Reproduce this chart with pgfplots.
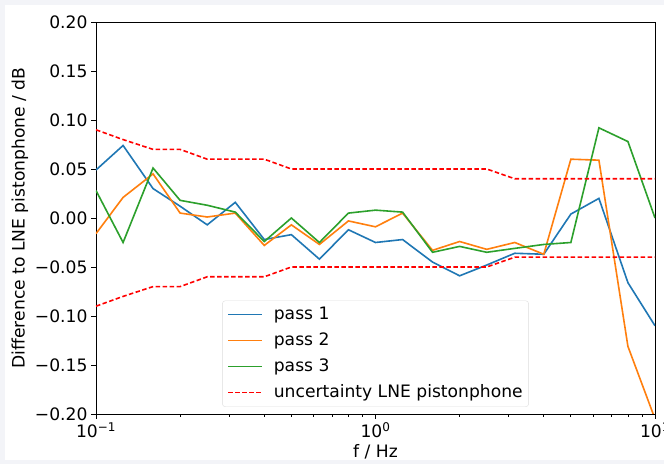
\documentclass[border=0pt]{standalone}
\usepackage{fontspec}
\setmainfont{DejaVu Sans}
\usepackage{pgfplots}
\pgfplotsset{compat=1.18}
\definecolor{tabblue}{HTML}{1F77B4}
\definecolor{taborange}{HTML}{FF7F0E}
\definecolor{tabgreen}{HTML}{2CA02C}
\definecolor{bggrey}{HTML}{F3F4F8}
\definecolor{legedge}{HTML}{DDDDDD}
\begin{document}
\begin{tikzpicture}[x=1bp,y=1bp]
\clip (0,0) rectangle (664,464);
\fill[bggrey] (0,0) rectangle (664,464);
\fill[white] (5,4) rectangle (664,459);
\begin{axis}[
  at={(96bp,50bp)}, anchor=south west,
  scale only axis, width=559bp, height=392bp,
  xmode=log, log basis x=10,
  xmin=0.1, xmax=10, ymin=-0.2, ymax=0.2,
  xtick={0.1,1,10},
  xticklabels={10\textsuperscript{−1},10\textsuperscript{0},10\textsuperscript{1}},
  minor xtick={0.2,0.3,0.4,0.5,0.6,0.7,0.8,0.9,2,3,4,5,6,7,8,9},
  ytick={-0.2,-0.15,-0.1,-0.05,0,0.05,0.1,0.15,0.2},
  yticklabels={−0.20,−0.15,−0.10,−0.05,0.00,0.05,0.10,0.15,0.20},
  tick align=outside, tick pos=left,
  major tick length=5bp, minor tick length=3bp,
  every tick/.style={black, line width=0.8bp},
  axis line style={line width=0.8bp},
  tick label style={font=\fontsize{17.2}{19}\selectfont},
  label style={font=\fontsize{17.2}{19}\selectfont},
  xlabel={f / Hz}, ylabel={Difference to LNE pistonphone / dB},
  clip=true,
  legend cell align=left,
  legend image code/.code={\draw[#1, line width=1.5bp] (0bp,0bp) -- (34bp,0bp);},
  legend style={at={(0.5,0.018)}, anchor=south, draw=legedge, rounded corners=3bp,
    fill=white, fill opacity=0.8, text opacity=1,
    font=\fontsize{17.2}{19}\selectfont, row sep=8bp,
    inner xsep=5bp, inner ysep=5bp,
    /tikz/every odd column/.append style={column sep=10bp},
    nodes={inner sep=1bp, text height=12.5bp, text depth=3.5bp}},
]
\addplot[tabblue, line width=1.6bp] coordinates {
(0.1,0.049) (0.125,0.074) (0.16,0.030) (0.2,0.012) (0.25,-0.007) (0.315,0.016)
(0.4,-0.022) (0.5,-0.017) (0.63,-0.042) (0.8,-0.012) (1,-0.025) (1.25,-0.022)
(1.6,-0.045) (2,-0.059) (2.5,-0.048) (3.15,-0.036) (4,-0.037) (5,0.004)
(6.3,0.020) (8,-0.066) (10,-0.110)};
\addlegendentry{pass 1}
\addplot[taborange, line width=1.6bp] coordinates {
(0.1,-0.016) (0.125,0.021) (0.16,0.045) (0.2,0.005) (0.25,0.001) (0.315,0.005)
(0.4,-0.028) (0.5,-0.007) (0.63,-0.027) (0.8,-0.003) (1,-0.009) (1.25,0.005)
(1.6,-0.033) (2,-0.024) (2.5,-0.032) (3.15,-0.025) (4,-0.037) (5,0.060)
(6.3,0.059) (8,-0.131) (10,-0.205)};
\addlegendentry{pass 2}
\addplot[tabgreen, line width=1.6bp] coordinates {
(0.1,0.028) (0.125,-0.025) (0.16,0.051) (0.2,0.018) (0.25,0.013) (0.315,0.006)
(0.4,-0.024) (0.5,0.000) (0.63,-0.025) (0.8,0.005) (1,0.008) (1.25,0.006)
(1.6,-0.035) (2,-0.029) (2.5,-0.035) (3.15,-0.031) (4,-0.027) (5,-0.025)
(6.3,0.092) (8,0.078) (10,0.000)};
\addlegendentry{pass 3}
\addplot[red, line width=1.6bp, dash pattern=on 4.5bp off 2.5bp] coordinates {
(0.1,0.09) (0.125,0.08) (0.16,0.07) (0.2,0.07) (0.25,0.06) (0.315,0.06)
(0.4,0.06) (0.5,0.05) (0.63,0.05) (0.8,0.05) (1,0.05) (1.25,0.05)
(1.6,0.05) (2,0.05) (2.5,0.05) (3.15,0.04) (4,0.04) (5,0.04)
(6.3,0.04) (8,0.04) (10,0.04)};
\addlegendentry{uncertainty LNE pistonphone}
\addplot[red, line width=1.6bp, dash pattern=on 4.5bp off 2.5bp, forget plot] coordinates {
(0.1,-0.09) (0.125,-0.08) (0.16,-0.07) (0.2,-0.07) (0.25,-0.06) (0.315,-0.06)
(0.4,-0.06) (0.5,-0.05) (0.63,-0.05) (0.8,-0.05) (1,-0.05) (1.25,-0.05)
(1.6,-0.05) (2,-0.05) (2.5,-0.05) (3.15,-0.04) (4,-0.04) (5,-0.04)
(6.3,-0.04) (8,-0.04) (10,-0.04)};
\end{axis}
\end{tikzpicture}
\end{document}
